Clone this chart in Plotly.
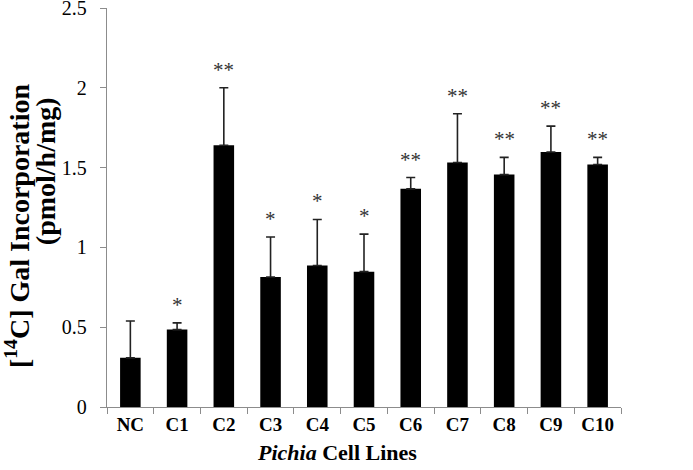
import plotly.graph_objects as go

categories = ["NC", "C1", "C2", "C3", "C4", "C5", "C6", "C7", "C8", "C9", "C10"]
means = [0.308, 0.485, 1.64, 0.815, 0.887, 0.848, 1.367, 1.532, 1.456, 1.598, 1.519]
errors = [0.231, 0.042, 0.36, 0.25, 0.288, 0.235, 0.071, 0.305, 0.108, 0.162, 0.045]
signif = ["", "*", "**", "*", "*", "*", "**", "**", "**", "**", "**"]
y_ticks = [0, 0.5, 1, 1.5, 2, 2.5]
y_tick_text = ["0", "0.5", "1", "1.5", "2", "2.5"]
x_title = "<i>Pichia</i> Cell Lines"
y_title_line1 = "[<sup>14</sup>C] Gal Incorporation"
y_title_line2 = "(pmol/h/mg)"

font_family = "Liberation Serif, Times New Roman, serif"
axis_color = "#8c8c8c"

fig = go.Figure()
fig.add_trace(go.Bar(
    x=categories,
    y=means,
    marker=dict(color="black", line=dict(width=0)),
    error_y=dict(type="data", array=errors, arrayminus=[0] * len(errors),
                 symmetric=False, color="#222222", thickness=1.6, width=4.5),
    showlegend=False,
))

for cat, m, e, s in zip(categories, means, errors, signif):
    if s:
        fig.add_annotation(x=cat, y=m + e, text=s, showarrow=False,
                           yanchor="bottom", yshift=4,
                           font=dict(family=font_family, size=21, color="#333333"))

title_font = dict(family=font_family, size=28, color="black", weight="bold")
fig.add_annotation(xref="paper", yref="paper", x=-0.174, y=0.4525, text=y_title_line1,
                   textangle=-90, showarrow=False, xanchor="center", yanchor="middle",
                   font=title_font)
fig.add_annotation(xref="paper", yref="paper", x=-0.1195, y=0.59, text=y_title_line2,
                   textangle=-90, showarrow=False, xanchor="center", yanchor="middle",
                   font=title_font)
fig.add_annotation(xref="paper", yref="paper", x=0.4484, y=-0.115, text=x_title,
                   showarrow=False, xanchor="center", yanchor="middle",
                   font=dict(family=font_family, size=22, color="black", weight="bold"))

fig.update_layout(
    width=693, height=470,
    margin=dict(l=107, r=72, t=8, b=63),
    plot_bgcolor="white", paper_bgcolor="white",
    bargap=0.56,
    font=dict(family=font_family, color="black"),
)
fig.update_xaxes(
    range=[-0.5, 10.5], automargin=False,
    showline=True, linecolor=axis_color, linewidth=1.3,
    ticks="outside", tickson="boundaries", ticklen=6, tickcolor=axis_color, tickwidth=1.3,
    tickfont=dict(family=font_family, size=19, color="black", weight="bold"),
    showgrid=False,
)
fig.update_yaxes(
    range=[0, 2.5], automargin=False,
    tickvals=y_ticks, ticktext=y_tick_text,
    showline=True, linecolor=axis_color, linewidth=1.3,
    ticks="outside", ticklen=6, tickcolor=axis_color, tickwidth=1.3,
    ticklabelstandoff=9, ticklabeloverflow="allow",
    tickfont=dict(family=font_family, size=20, color="black"),
    showgrid=False, zeroline=False,
)

fig.write_html("out.html", config={"displayModeBar": False},
               post_script="document.body.style.margin='0';")
